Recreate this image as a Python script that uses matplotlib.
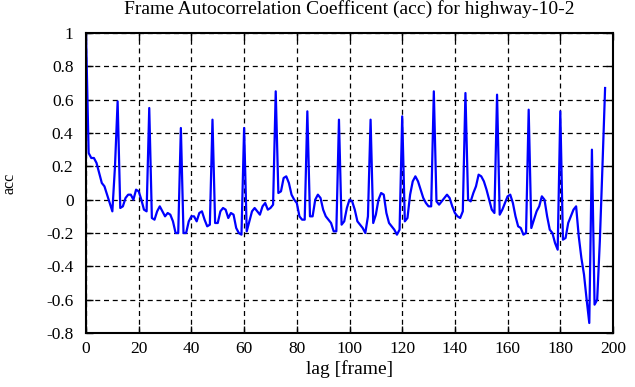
import matplotlib
matplotlib.use("Agg")
import matplotlib.pyplot as plt
import numpy as np

# autocorrelation values, one per lag
acc = [
    1.0, 0.28, 0.25, 0.25, 0.22, 0.16, 0.10, 0.08, 0.03, -0.02,
    -0.07, 0.20, 0.59, -0.05, -0.04, 0.01, 0.03, 0.03, 0.0, 0.06,
    0.05, 0.0, -0.06, -0.07, 0.55, -0.11, -0.12, -0.07, -0.04, -0.07,
    -0.10, -0.08, -0.09, -0.13, -0.20, -0.20, 0.43, -0.20, -0.20, -0.13,
    -0.10, -0.10, -0.13, -0.08, -0.07, -0.12, -0.16, -0.15, 0.48, -0.14,
    -0.14, -0.07, -0.05, -0.06, -0.11, -0.08, -0.09, -0.17, -0.20, -0.21,
    0.43, -0.19, -0.13, -0.07, -0.05, -0.07, -0.09, -0.04, -0.02, -0.06,
    -0.05, -0.03, 0.65, 0.04, 0.05, 0.13, 0.14, 0.10, 0.03, 0.0,
    -0.02, -0.10, -0.12, -0.12, 0.53, -0.10, -0.10, 0.0, 0.03, 0.01,
    -0.06, -0.10, -0.12, -0.14, -0.19, -0.19, 0.48, -0.15, -0.13, -0.05,
    0.0, -0.01, -0.06, -0.13, -0.15, -0.17, -0.20, -0.10, 0.48, -0.14,
    -0.09, 0.0, 0.04, 0.03, -0.08, -0.14, -0.16, -0.18, -0.21, -0.18,
    0.50, -0.13, -0.11, 0.03, 0.11, 0.14, 0.11, 0.06, 0.01, -0.02,
    -0.04, -0.04, 0.65, -0.01, -0.03, -0.01, 0.01, 0.03, 0.01, -0.04,
    -0.08, -0.10, -0.11, -0.07, 0.64, 0.0, -0.01, 0.04, 0.08, 0.15,
    0.14, 0.11, 0.06, 0.0, -0.06, -0.08, 0.63, -0.09, -0.06, -0.02,
    0.02, 0.03, -0.02, -0.10, -0.16, -0.17, -0.21, -0.20, 0.54, -0.17,
    -0.12, -0.07, -0.04, 0.02, 0.0, -0.10, -0.18, -0.20, -0.26, -0.30,
    0.53, -0.24, -0.23, -0.14, -0.10, -0.06, -0.04, -0.22, -0.35, -0.45,
    -0.60, -0.74, 0.30, -0.63, -0.60, -0.25, 0.20, 0.67,
]
lags = np.arange(len(acc))

xticks = list(range(0, 201, 20))
yticks = [1, 0.8, 0.6, 0.4, 0.2, 0, -0.2, -0.4, -0.6, -0.8]

plt.rcParams['font.family'] = ['Liberation Serif', 'DejaVu Serif']
plt.rcParams['font.size'] = 12.5
plt.rcParams['axes.unicode_minus'] = False

fig = plt.figure(figsize=(6.35, 3.87), dpi=100)
ax = fig.add_axes([86/635, 1-333/387, (613-86)/635, 300/387])

ax.plot(lags, acc, color='#0000ff', lw=1.6)

ax.set_xlim(0, 200)
ax.set_ylim(-0.8, 1)
ax.set_xticks(xticks)
ax.set_yticks(yticks)
ax.set_yticklabels(['%g' % v for v in yticks])
ax.grid(True, color='black', linestyle=(0, (4, 3)), lw=0.9)
ax.tick_params(direction='in', length=5, width=1, top=True, right=True)
ax.tick_params(axis='y', pad=9)
ax.tick_params(axis='x', pad=6)
for s in ax.spines.values():
    s.set_linewidth(1.5)

ax.set_title('Frame Autocorrelation Coefficent (acc) for highway-10-2', fontsize=14, pad=14)
ax.set_xlabel('lag [frame]', fontsize=14, labelpad=2)
ax.set_ylabel('acc', fontsize=11.5)
ax.yaxis.set_label_coords(-68/527, 0.5)

plt.savefig('out.png', dpi=100)
